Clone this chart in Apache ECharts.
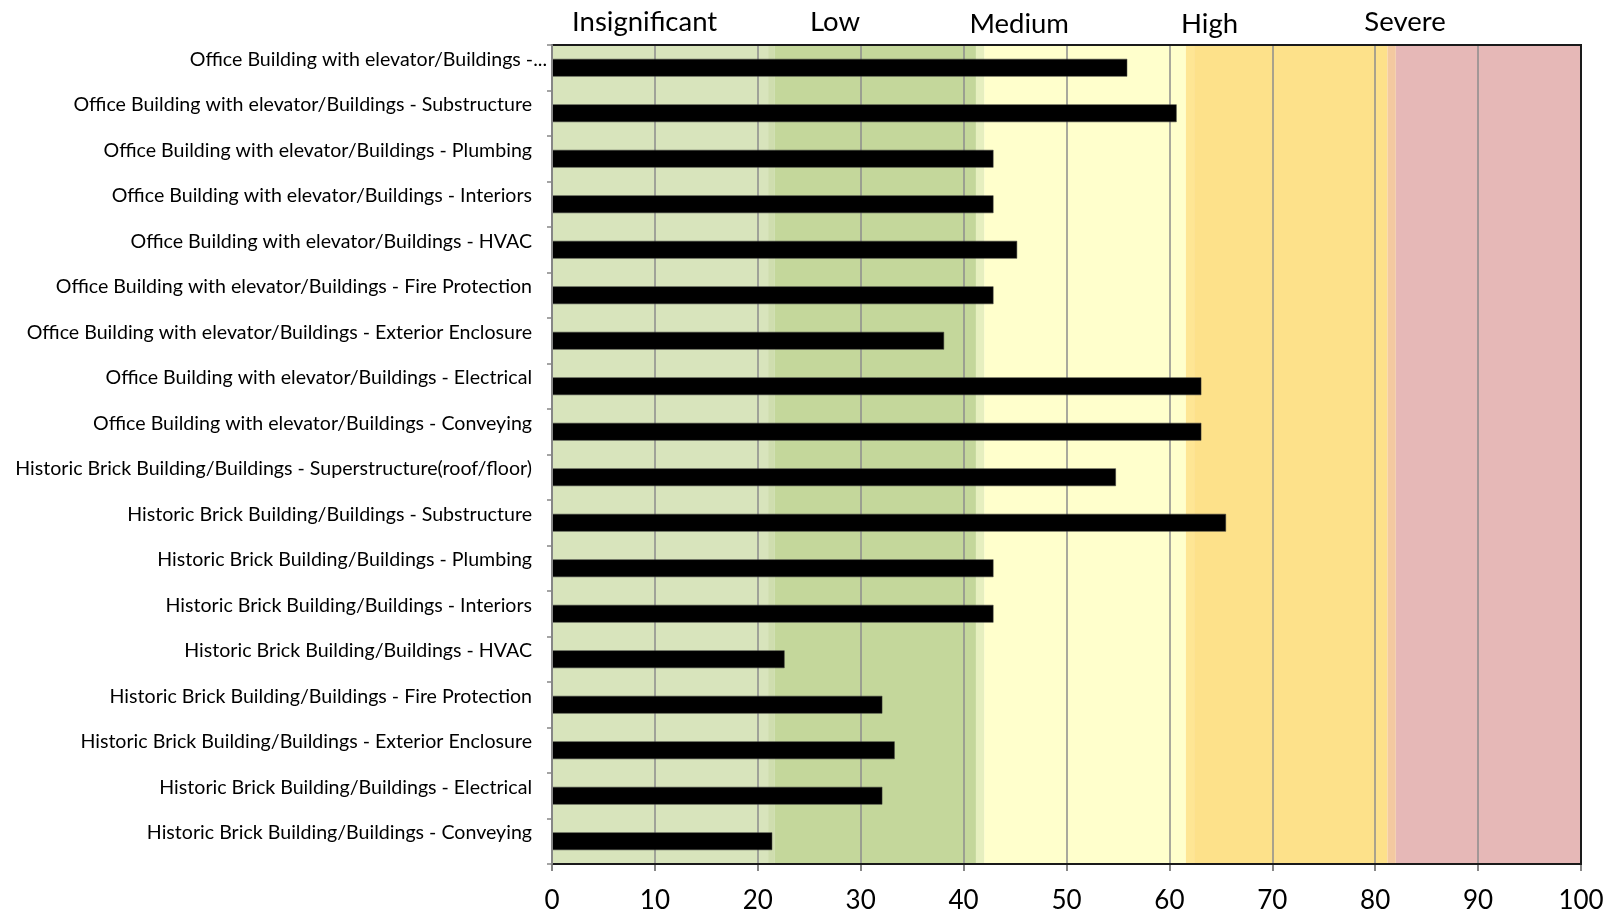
<!DOCTYPE html>
<html>
<head>
<meta charset="utf-8">
<style>
  html, body { margin: 0; padding: 0; background: #ffffff; }
  #chart { width: 1612px; height: 914px; }
</style>
<script src="https://cdn.jsdelivr.net/npm/echarts@6/dist/echarts.min.js"></script>
</head>
<body>
<div id="chart"></div>
<script>
// Assessed components, top to bottom
const categories = [
  'Office Building with elevator/Buildings -...',
  'Office Building with elevator/Buildings - Substructure',
  'Office Building with elevator/Buildings - Plumbing',
  'Office Building with elevator/Buildings - Interiors',
  'Office Building with elevator/Buildings - HVAC',
  'Office Building with elevator/Buildings - Fire Protection',
  'Office Building with elevator/Buildings - Exterior Enclosure',
  'Office Building with elevator/Buildings - Electrical',
  'Office Building with elevator/Buildings - Conveying',
  'Historic Brick Building/Buildings - Superstructure(roof/floor)',
  'Historic Brick Building/Buildings - Substructure',
  'Historic Brick Building/Buildings - Plumbing',
  'Historic Brick Building/Buildings - Interiors',
  'Historic Brick Building/Buildings - HVAC',
  'Historic Brick Building/Buildings - Fire Protection',
  'Historic Brick Building/Buildings - Exterior Enclosure',
  'Historic Brick Building/Buildings - Electrical',
  'Historic Brick Building/Buildings - Conveying'
];

// Risk score per component
const scores = [
  55.9, 60.7, 42.9, 42.9, 45.2, 42.9, 38.1, 63.1, 63.1,
  54.8, 65.5, 42.9, 42.9, 22.6, 32.1, 33.3, 32.1, 21.4
];

// Risk levels and the score ranges they cover
const levelNames = ['Insignificant', 'Low', 'Medium', 'High', 'Severe'];
const levelRanges = [[0, 21], [21.6, 41.2], [42, 61.6], [62.4, 81.2], [82, 100]];
// Narrow blends between neighbouring levels
const blendRanges = [[21, 21.6], [41.2, 42], [61.6, 62.4], [81.2, 82]];
// Score where each level heading sits
const levelLabelAt = [9.0, 27.5, 45.4, 63.9, 82.9];

// X axis ticks
const xMin = 0, xMax = 100, xStep = 10;

const levelColors = ['#d8e4bc', '#c4d79b', '#ffffcc', '#fde18a', '#e6b8b7'];
const blendColors = ['#cfddae', '#e6efbf', '#fee694', '#f3c9a0'];

const FONT = 'Lato, "Open Sans", sans-serif';

const bandData = [];
levelRanges.forEach((r, i) => {
  bandData.push([{ xAxis: r[0], itemStyle: { color: levelColors[i] } }, { xAxis: r[1] }]);
});
blendRanges.forEach((r, i) => {
  bandData.push([{ xAxis: r[0], itemStyle: { color: blendColors[i] } }, { xAxis: r[1] }]);
});

const chart = echarts.init(document.getElementById('chart'), null, { renderer: 'canvas' });

chart.setOption({
  backgroundColor: '#ffffff',
  animation: false,
  textStyle: { fontFamily: FONT },
  grid: {
    left: 552, right: 31, top: 45, bottom: 49,
    show: true, z: 5,
    backgroundColor: 'transparent',
    borderColor: '#1a1a1a', borderWidth: 2
  },
  xAxis: {
    type: 'value',
    min: xMin, max: xMax, interval: xStep,
    z: 2,
    axisLine: { show: true, lineStyle: { color: '#868686', width: 2 } },
    axisTick: { show: true, length: 7, lineStyle: { color: '#868686', width: 2 } },
    splitLine: { show: true, lineStyle: { color: '#8c8c8c', width: 1.5 } },
    axisLabel: { color: '#000', fontSize: 26, fontFamily: FONT, margin: 24 }
  },
  yAxis: {
    type: 'category',
    data: categories,
    inverse: true,
    z: 6,
    axisLine: { show: true, lineStyle: { color: '#868686', width: 2 } },
    axisTick: { show: true, length: 5, lineStyle: { color: '#868686', width: 1.5 } },
    splitLine: { show: false },
    axisLabel: {
      color: '#000', fontSize: 19.6, fontFamily: FONT, margin: 5,
      verticalAlign: 'bottom', lineHeight: 17,
      // shortened names run right up to the axis; full names keep a gap
      formatter: (v) => (v.endsWith('...') ? '{cut|' + v + '}' : '{full|' + v + '}'),
      rich: {
        full: { fontSize: 19.6, fontFamily: FONT, color: '#000', lineHeight: 17, padding: [0, 15, 0, 0] },
        cut: { fontSize: 19.6, fontFamily: FONT, color: '#000', lineHeight: 17 }
      }
    }
  },
  series: [
    {
      // Background risk-level bands
      type: 'line',
      data: [],
      z: 1,
      silent: true,
      markArea: { silent: true, data: bandData }
    },
    {
      type: 'bar',
      data: scores,
      z: 3,
      barWidth: '39%',
      itemStyle: { color: '#000000', borderColor: '#3a3a3a', borderWidth: 0.5 }
    }
  ]
});

// Level headings above the plot
const headings = levelNames.map((name, i) => {
  const px = chart.convertToPixel({ xAxisIndex: 0 }, levelLabelAt[i]);
  return {
    type: 'text',
    x: px,
    y: (i === 2 || i === 3) ? 24 : 22,
    style: {
      text: name,
      fontFamily: FONT,
      fontSize: 27.5,
      fill: '#000',
      align: 'center',
      verticalAlign: 'middle'
    }
  };
});
chart.setOption({ graphic: headings });
</script>
</body>
</html>
